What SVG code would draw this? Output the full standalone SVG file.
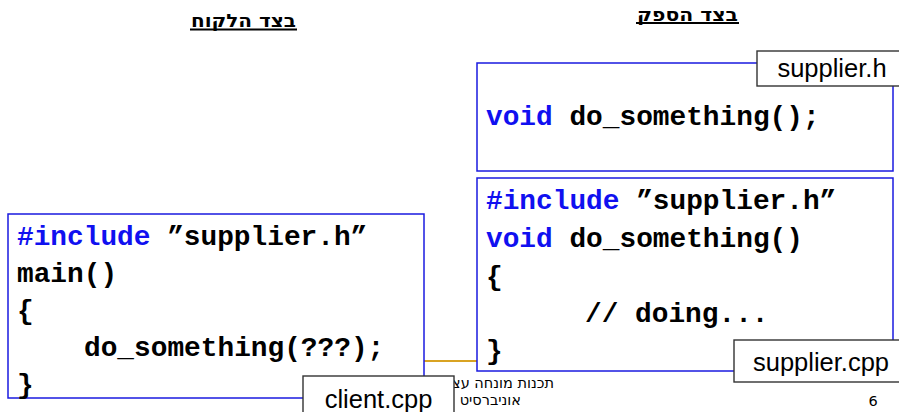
<svg xmlns="http://www.w3.org/2000/svg" width="899" height="412" viewBox="0 0 899 412">
  <style>
    .code { font-family: "Liberation Mono", "Courier New", monospace; font-weight: bold; font-size: 27.8px; fill: #000; }
    .kw { fill: #1010f0; }
    .box { fill: #fff; stroke: #1a1ae0; stroke-width: 1.5; }
    .tag { fill: #fff; stroke: #333; stroke-width: 1.4; }
    .tagtext { font-family: "Liberation Sans", Arial, sans-serif; font-size: 25.5px; fill: #000; text-anchor: middle; }
    .head { font-family: "DejaVu Sans", "Liberation Sans", sans-serif; font-weight: bold; font-size: 18px; fill: #000; }
    .foot { font-family: "DejaVu Sans", "Liberation Sans", sans-serif; font-size: 14.5px; fill: #000; }
  </style>
  <rect width="899" height="412" fill="#fff"/>

  <g id="headers">
    <text class="head" x="191" y="27" textLength="105" lengthAdjust="spacingAndGlyphs">בצד הלקוח</text>
    <line x1="190" y1="29.5" x2="297" y2="29.5" stroke="#000" stroke-width="2.2"/>
    <text class="head" x="637" y="20.5" textLength="101" lengthAdjust="spacingAndGlyphs">בצד הספק</text>
    <line x1="636" y1="23" x2="739" y2="23" stroke="#000" stroke-width="2.2"/>
  </g>

  <g id="footer">
    <line x1="424" y1="361" x2="740" y2="361" stroke="#d9a323" stroke-width="2"/>
    <text class="foot" x="554" y="388" text-anchor="end">תכנות מונחה עצ</text>
    <text class="foot" x="521" y="405" text-anchor="end">אוניברסיט</text>
    <text class="foot" x="873" y="406" text-anchor="middle">6</text>
  </g>

  <g id="supplier-h">
    <rect class="box" x="477" y="63" width="416" height="108"/>
    <text class="code" x="486" y="125"><tspan class="kw">void</tspan> do_something();</text>
  </g>

  <g id="supplier-cpp">
    <rect class="box" x="477" y="178" width="416" height="193"/>
    <text class="code" x="486" y="209"><tspan class="kw">#include</tspan> ”supplier.h”</text>
    <text class="code" x="486" y="247"><tspan class="kw">void</tspan> do_something()</text>
    <text class="code" x="486" y="285">{</text>
    <text class="code" x="585" y="322">// doing...</text>
    <text class="code" x="486" y="359">}</text>
  </g>

  <g id="client-cpp">
    <rect class="box" x="8" y="214" width="416" height="184"/>
    <text class="code" x="17" y="245"><tspan class="kw">#include</tspan> ”supplier.h”</text>
    <text class="code" x="17" y="282">main()</text>
    <text class="code" x="17" y="319">{</text>
    <text class="code" x="84" y="356">do_something(???);</text>
    <text class="code" x="17" y="393">}</text>
  </g>

  <g id="label-supplier-h">
    <rect class="tag" x="757" y="51" width="150" height="35"/>
    <text class="tagtext" x="832" y="77">supplier.h</text>
  </g>

  <g id="label-supplier-cpp">
    <rect class="tag" x="734" y="340" width="174" height="42"/>
    <text class="tagtext" x="821" y="371">supplier.cpp</text>
  </g>

  <g id="label-client-cpp">
    <rect class="tag" x="303" y="376" width="151" height="45"/>
    <text class="tagtext" x="378.5" y="408">client.cpp</text>
  </g>
</svg>
